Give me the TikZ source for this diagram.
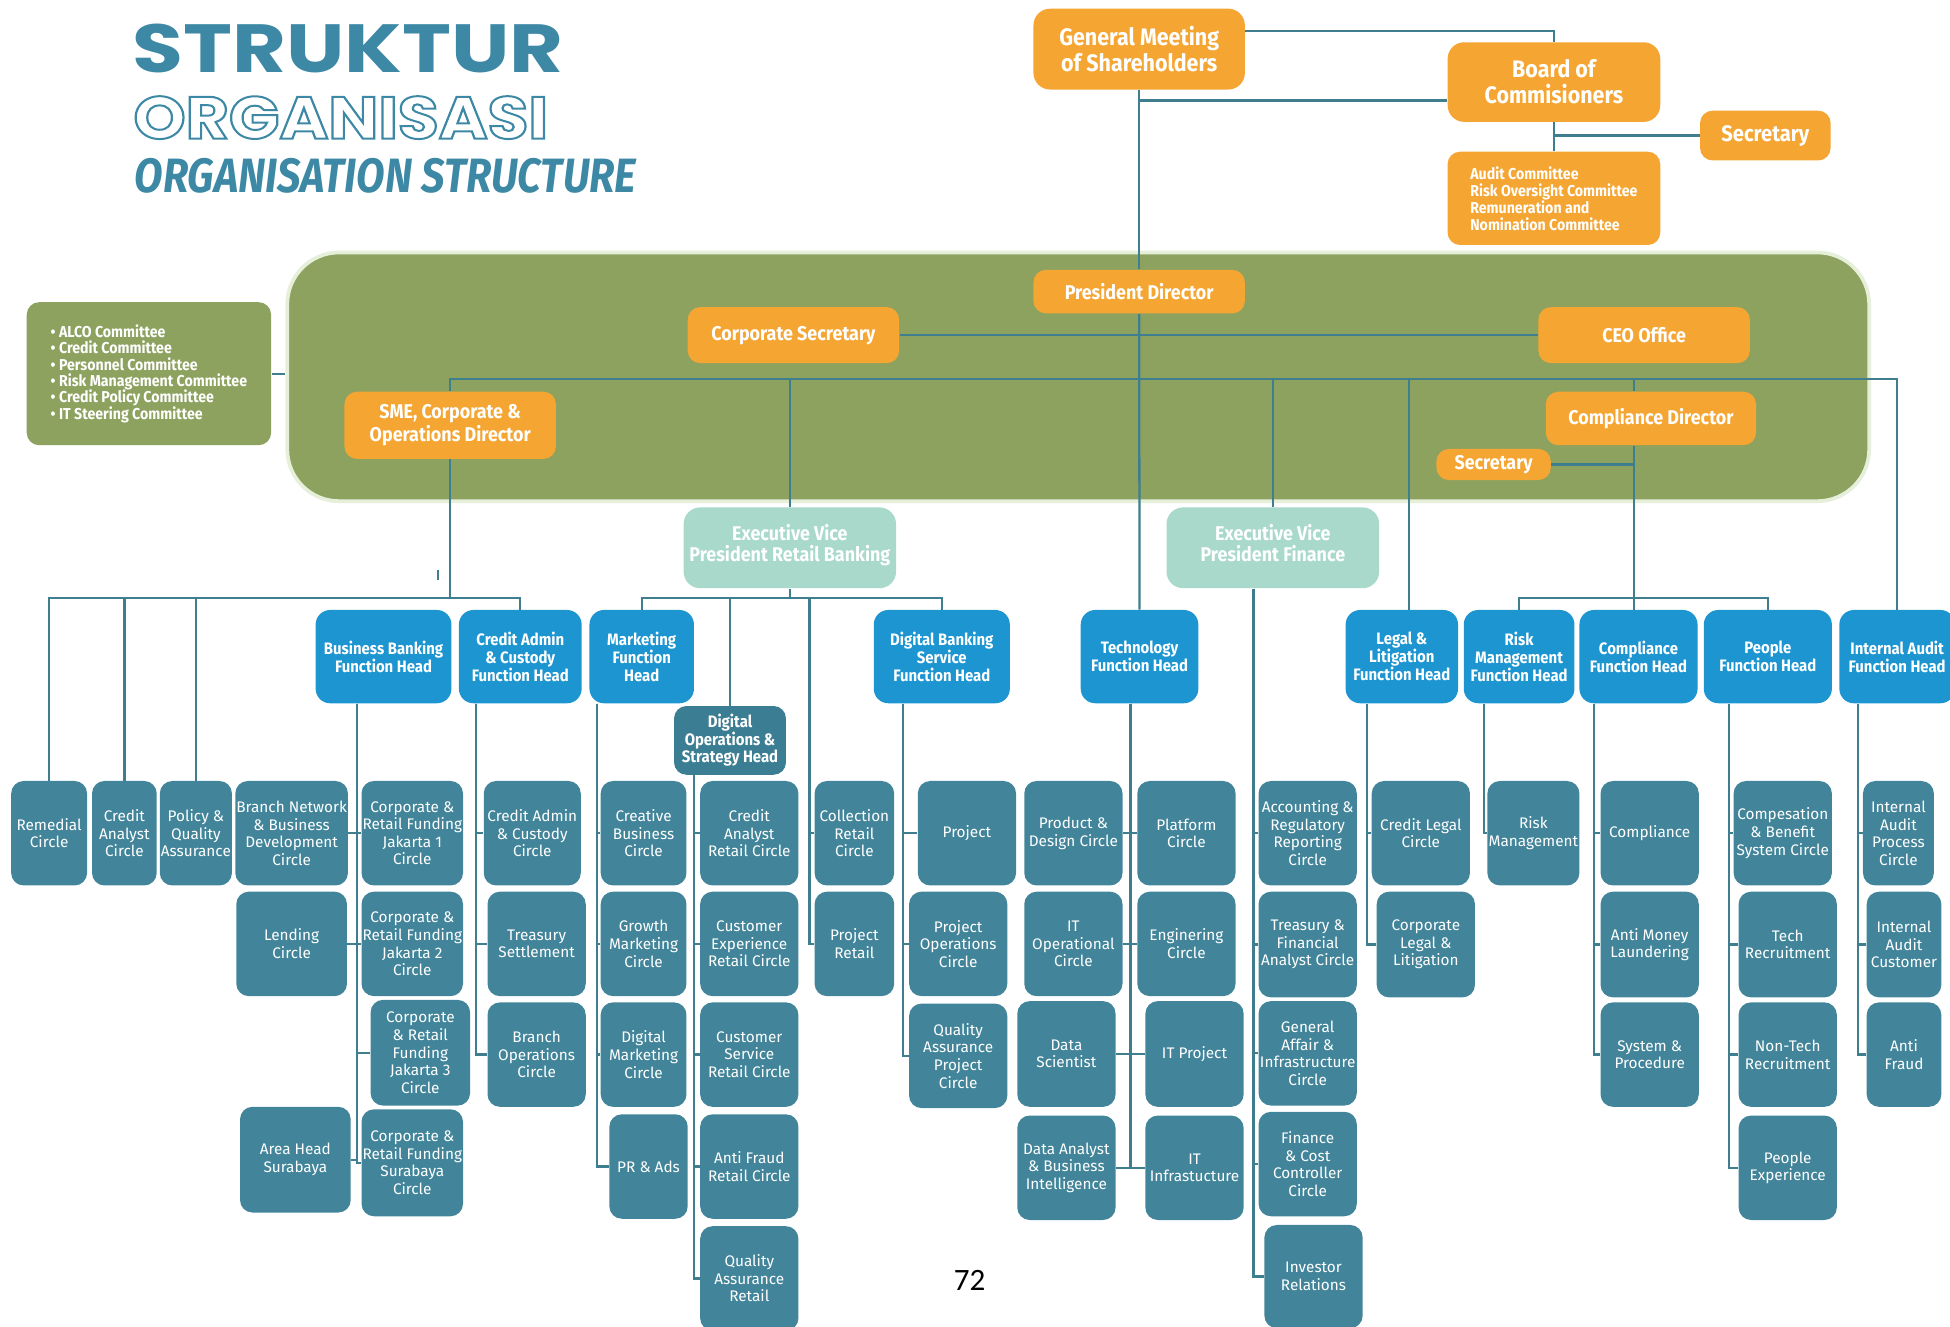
\documentclass[tikz,border=0pt]{standalone}
\usepackage{fontspec}
\usepackage{graphicx}
\setmainfont{Fira Sans}
\newfontfamily\hfont{Fira Sans}[FakeStretch=0.9]
\newfontfamily\tfont{Poppins}
\newfontfamily\pfont{Carlito}
\usetikzlibrary{calc}
\definecolor{titleteal}{HTML}{3C88A5}
\definecolor{orng}{HTML}{F5A532}
\definecolor{grn}{HTML}{8DA25F}
\definecolor{grnedge}{HTML}{E6EFD9}
\definecolor{evpc}{HTML}{A8D9CB}
\definecolor{blu}{HTML}{1C95D1}
\definecolor{circ}{HTML}{42859A}
\definecolor{dops}{HTML}{3B7E93}
\definecolor{linec}{HTML}{3E7E8E}
\pgfdeclarelayer{back}\pgfdeclarelayer{mid}\pgfsetlayers{back,mid,main}
\newcommand\orgbox[7]{\node[#1, minimum width={(#5-#3)*0.6pt}, minimum height={(#6-#4)*0.6pt}] (#2) at ({(#3+#5)/2},{(#4+#6)/2}) {#7};}
\tikzset{
 base/.style={rounded corners=6pt, inner sep=0.5pt, align=center, text=white},
 og/.style={base, fill=orng, font=\hfont\bfseries\fontsize{9.6}{11}\selectfont},
 ogbig/.style={base, rounded corners=8pt, fill=orng, font=\hfont\bfseries\fontsize{11.5}{12.5}\selectfont},
 ogsec/.style={base, fill=orng, font=\hfont\bfseries\fontsize{10.8}{12}\selectfont},
 ogsmall/.style={base, fill=orng, font=\hfont\bfseries\fontsize{7.6}{8.2}\selectfont, align=left},
 cmtst/.style={base, fill=grn, font=\hfont\bfseries\fontsize{7.6}{7.9}\selectfont, align=left},
 panelst/.style={fill=grn, draw=grnedge, line width=1.8pt, rounded corners=25pt, inner sep=0pt},
 evp/.style={base, rounded corners=8pt, fill=evpc, font=\hfont\bfseries\fontsize{9.6}{10.2}\selectfont},
 head/.style={base, rounded corners=7pt, fill=blu, font=\hfont\bfseries\fontsize{8}{8.6}\selectfont},
 dop/.style={base, fill=dops, font=\hfont\bfseries\fontsize{8}{8.5}\selectfont},
 cir/.style={base, fill=circ, font=\fontsize{7.4}{8.5}\selectfont},
 con/.style={draw=linec, line width=1.1pt},
}
\begin{document}
\begin{tikzpicture}[x=0.6pt, y=-0.6pt]
\useasboundingbox (0,0) rectangle (1568,1067);
% ---------- title
\node[anchor=north west, inner sep=0, text=titleteal] (t1) at (106,19) {\resizebox{208pt}{23.4pt}{\tfont\bfseries STRUKTUR}};
\node[anchor=north west, inner sep=0, text=titleteal] (t2) at (107,77) {\resizebox{200pt}{20.5pt}{\tfont\bfseries\fontsize{30}{30}\selectfont\special{pdf:literal direct 1 Tr 1 w}ORGANISASI\special{pdf:literal direct 0 Tr}}};
\node[anchor=north west, inner sep=0, text=titleteal] (t3) at (108,127) {\resizebox{242pt}{16.5pt}{\bfseries\itshape ORGANISATION STRUCTURE}};
% ---------- green panel
\begin{pgfonlayer}{back}
\orgbox{panelst}{panel}{231}{203}{1503}{403}{}
\end{pgfonlayer}
% ---------- top
\orgbox{ogbig}{gms}{831}{7}{1001}{72}{General Meeting\\of Shareholders}
\orgbox{ogbig}{board}{1164}{34}{1335}{98}{Board of\\Commisioners}
\orgbox{ogsec}{sec1}{1367}{89}{1472}{129}{Secretary}
\orgbox{ogsmall}{comm}{1164}{122}{1335}{197}{Audit Committee\\Risk Oversight Committee\\Remuneration and\\Nomination Committee}
\orgbox{cmtst}{cmt}{21.5}{243}{218}{358}{\textbullet\ ALCO Committee\\\textbullet\ Credit Committee\\\textbullet\ Personnel Committee\\\textbullet\ Risk Management Committee\\\textbullet\ Credit Policy Committee\\\textbullet\ IT Steering Committee}
% ---------- inside panel
\orgbox{og}{pd}{831}{217}{1001}{252}{President Director}
\orgbox{og}{cs}{553}{247}{723}{292}{Corporate Secretary}
\orgbox{og}{ceo}{1237}{247}{1407}{292}{CEO Office}
\orgbox{og}{sme}{277}{315}{447}{369}{SME, Corporate \&\\Operations Director}
\orgbox{og}{cpd}{1243}{315}{1412}{358}{Compliance Director}
\orgbox{og}{sec2}{1155}{361}{1247}{386}{Secretary}
% ---------- EVP
\orgbox{evp}{evpr}{549.7}{408}{720.5}{473}{Executive Vice\\President Retail Banking\\[-5.4pt]}
\orgbox{evp}{evpf}{938}{408}{1109}{473}{Executive Vice\\President Finance\\[-5.4pt]}
% ---------- function heads
\orgbox{head}{bbh}{253.8}{490.5}{363}{565.5}{Business Banking\\Function Head}
\orgbox{head}{cah}{369}{490.5}{467.7}{565.5}{Credit Admin\\\& Custody\\Function Head}
\orgbox{head}{mkh}{474}{490.5}{558}{565.5}{Marketing\\Function\\Head}
\orgbox{head}{dbh}{702.6}{490.5}{812}{565.5}{Digital Banking\\Service\\Function Head}
\orgbox{head}{teh}{869}{490.5}{963.6}{565.5}{Technology\\Function Head}
\orgbox{head}{lgh}{1082}{490.5}{1172.4}{565.5}{Legal \&\\Litigation\\Function Head}
\orgbox{head}{rmh}{1177}{490.5}{1266}{565.5}{Risk\\Management\\Function Head}
\orgbox{head}{cph}{1270}{490.5}{1365}{565.5}{Compliance\\Function Head}
\orgbox{head}{peh}{1370}{490.5}{1473}{565.5}{People\\Function Head}
\orgbox{head}{iah}{1479}{490.5}{1572}{565.5}{Internal Audit\\Function Head}
\orgbox{dop}{doh}{542}{567.7}{632}{623}{Digital\\Operations \&\\Strategy Head}
% ---------- circles
\orgbox{cir}{rem}{9}{628}{70}{712}{Remedial\\Circle}
\orgbox{cir}{cra}{74}{628}{126}{712}{Credit\\Analyst\\Circle}
\orgbox{cir}{pqa}{129}{628}{186}{712}{Policy \&\\Quality\\Assurance}
\orgbox{cir}{bn}{190}{628}{279}{712}{Branch Network\\\& Business\\Development\\Circle}
\orgbox{cir}{lend}{190}{717}{279}{801}{Lending\\Circle}
\orgbox{cir}{ahs}{193}{890}{282}{975}{Area Head\\Surabaya}
\orgbox{cir}{j1}{292}{628}{371}{712}{Corporate \&\\Retail Funding\\Jakarta 1\\Circle}
\orgbox{cir}{j2}{292}{717}{371}{801}{Corporate \&\\Retail Funding\\Jakarta 2\\Circle}
\orgbox{cir}{j3}{298}{804}{378}{889}{Corporate\\\& Retail\\Funding\\Jakarta 3\\Circle}
\orgbox{cir}{sby}{292}{892}{371}{978}{Corporate \&\\Retail Funding\\Surabaya\\Circle}
\orgbox{cir}{cac}{389}{628}{467}{712}{Credit Admin\\\& Custody\\Circle}
\orgbox{cir}{ts}{392}{717}{471}{801}{Treasury\\Settlement}
\orgbox{cir}{boc}{392}{806}{471}{890}{Branch\\Operations\\Circle}
\orgbox{cir}{cbc}{483}{628}{552}{712}{Creative\\Business\\Circle}
\orgbox{cir}{gmc}{483}{717}{552}{801}{Growth\\Marketing\\Circle}
\orgbox{cir}{dmc}{483}{806}{552}{890}{Digital\\Marketing\\Circle}
\orgbox{cir}{pra}{490}{896}{553}{980}{PR \& Ads}
\orgbox{cir}{carc}{563}{628}{642}{712}{Credit\\Analyst\\Retail Circle}
\orgbox{cir}{cerc}{563}{717}{642}{801}{Customer\\Experience\\Retail Circle}
\orgbox{cir}{csrc}{563}{806}{642}{890}{Customer\\Service\\Retail Circle}
\orgbox{cir}{afrc}{563}{896}{642}{980}{Anti Fraud\\Retail Circle}
\orgbox{cir}{qar}{563}{986}{642}{1070}{Quality\\Assurance\\Retail}
\orgbox{cir}{col}{655}{628}{719}{712}{Collection\\Retail\\Circle}
\orgbox{cir}{prr}{655}{717}{719}{801}{Project\\Retail}
\orgbox{cir}{proj}{738}{628}{817}{712}{Project}
\orgbox{cir}{poc}{731}{717}{810}{801}{Project\\Operations\\Circle}
\orgbox{cir}{qapc}{731}{807}{810}{891}{Quality\\Assurance\\Project\\Circle}
\orgbox{cir}{pdc}{823.6}{628}{902.6}{712}{Product \&\\Design Circle}
\orgbox{cir}{itoc}{823.6}{717}{902.6}{801}{IT\\Operational\\Circle}
\orgbox{cir}{ds}{818}{805}{897}{890}{Data\\Scientist}
\orgbox{cir}{dabi}{818}{897}{897}{981}{Data Analyst\\\& Business\\Intelligence}
\orgbox{cir}{plc}{914.5}{628}{993.5}{712}{Platform\\Circle}
\orgbox{cir}{enc}{914.5}{717}{993.5}{801}{Enginering\\Circle}
\orgbox{cir}{itp}{921}{805}{1000}{890}{IT Project}
\orgbox{cir}{iti}{921}{897}{1000}{981}{IT\\Infrastucture}
\orgbox{cir}{arr}{1012}{628}{1091}{712}{Accounting \&\\Regulatory\\Reporting\\Circle}
\orgbox{cir}{tfa}{1012}{717}{1091}{802}{Treasury \&\\Financial\\Analyst Circle}
\orgbox{cir}{gai}{1012}{805}{1091}{889}{General\\Affair \&\\Infrastructure\\Circle}
\orgbox{cir}{fcc}{1012}{894}{1091}{978}{Finance\\\& Cost\\Controller\\Circle}
\orgbox{cir}{ir}{1016.7}{985}{1095.7}{1068}{Investor\\Relations}
\orgbox{cir}{clc}{1103}{628}{1182}{712}{Credit Legal\\Circle}
\orgbox{cir}{cll}{1107}{717}{1186}{802}{Corporate\\Legal \&\\Litigation}
\orgbox{cir}{rm}{1196}{628}{1270}{712}{Risk\\Management}
\orgbox{cir}{cmp}{1287}{628}{1366}{712}{Compliance}
\orgbox{cir}{aml}{1287}{717}{1366}{802}{Anti Money\\Laundering}
\orgbox{cir}{sp}{1287}{806}{1366}{890}{System \&\\Procedure}
\orgbox{cir}{cbs}{1394}{628}{1473}{712}{Compesation\\\& Benefit\\System Circle}
\orgbox{cir}{tr}{1398}{717}{1477}{802}{Tech\\Recruitment}
\orgbox{cir}{ntr}{1398}{806}{1477}{890}{Non-Tech\\Recruitment}
\orgbox{cir}{pe}{1398}{897}{1477}{981}{People\\Experience}
\orgbox{cir}{iap}{1498}{628}{1555}{712}{Internal\\Audit\\Process\\Circle}
\orgbox{cir}{iac}{1501}{717}{1561}{802}{Internal\\Audit\\Customer}
\orgbox{cir}{af}{1501}{806}{1561}{890}{Anti\\Fraud}
% page number
\node[font=\pfont\fontsize{15}{15}\selectfont, text=black] (pg) at (779.6,1029.7) {72};
% ---------- connectors
\begin{pgfonlayer}{mid}
\coordinate (gr) at ($(gms.north east)!0.28!(gms.south east)$);
\draw[con] (gr) -| (board.north);
\draw[con] (gms.south) -- (pd.north);
\coordinate (bl) at ($(board.north west)!0.73!(board.south west)$);
\draw[con] (bl) -- (bl -| gms.south);
\draw[con] (board.south) -- (comm.north);
\draw[con] (sec1.west) -- (sec1.west -| board.south);
\draw[con] (cmt.east) -- (cmt.east -| panel.west);
\draw[con] (pd.south) -- (teh.north);
\draw[con] (cs.east) -- (ceo.west);
\coordinate (bus) at (0,305);
\coordinate (bus2) at (0,481);
\draw[con] (sme.north) |- (bus -| iah.north) -- (iah.north);
\draw[con] (bus -| evpr.north) -- (evpr.north);
\draw[con] (bus -| evpf.north) -- (evpf.north);
\coordinate (xLeg) at (1133,0);
\draw[con] (bus -| xLeg) -- (lgh.north -| xLeg);
\coordinate (xCp) at (1314,0);
\draw[con] (bus -| xCp) -- (cpd.north -| xCp);
\draw[con] (cpd.south -| xCp) -- (cph.north -| xCp);
\draw[con] (sec2.east) -- (sec2.east -| xCp);
\draw[con] (rmh.north) |- (bus2 -| peh.north) -- (peh.north);
% SME
\draw[con] (sme.south) -- (sme.south |- bus2);
\draw[con] (rem.north) |- (bus2 -| cah.north) -- (cah.north);
\draw[con] (bus2 -| cra.north) -- (cra.north);
\draw[con] (bus2 -| pqa.north) -- (pqa.north);
\coordinate (tk1) at (352,458); \coordinate (tk2) at (352,466);
\draw[con, line width=0.8pt] (tk1) -- (tk2);
% EVP retail
\draw[con] (evpr.south) -- (evpr.south |- bus2);
\draw[con] (mkh.north) |- (bus2 -| dbh.north) -- (dbh.north);
\draw[con] (bus2 -| doh.north) -- (doh.north);
\coordinate (tCo) at (651,0);
\draw[con] (bus2 -| tCo) |- (col.west);
\draw[con] (bus2 -| tCo) |- (prr.west);
% EVP finance
\coordinate (tFi) at (1008,0);
\foreach \n in {arr,tfa,gai,fcc,ir} \draw[con] (evpf.south -| tFi) |- (\n.west);
% trunks
\coordinate (tBB) at (287,0);
\foreach \n in {j1,j2,j3,sby} \draw[con] (bbh.south -| tBB) |- (\n.west);
\foreach \n in {bn,lend,ahs} \draw[con] (bbh.south -| tBB) |- (\n.east);
\coordinate (tCA) at (383,0);
\foreach \n in {cac,ts,boc} \draw[con] (cah.south -| tCA) |- (\n.west);
\coordinate (tMK) at (480,0);
\foreach \n in {cbc,gmc,dmc,pra} \draw[con] (mkh.south -| tMK) |- (\n.west);
\coordinate (tDO) at (558,0);
\foreach \n in {carc,cerc,csrc,afrc,qar} \draw[con] (doh.south -| tDO) |- (\n.west);
\coordinate (tDB) at (726,0);
\foreach \n in {proj,poc,qapc} \draw[con] (dbh.south -| tDB) |- (\n.west);
\coordinate (tTE) at (909,0);
\foreach \n in {plc,enc,itp,iti} \draw[con] (teh.south -| tTE) |- (\n.west);
\foreach \n in {pdc,itoc,ds,dabi} \draw[con] (teh.south -| tTE) |- (\n.east);
\coordinate (tLG) at (1099,0);
\foreach \n in {clc,cll} \draw[con] (lgh.south -| tLG) |- (\n.west);
\coordinate (tRK) at (1193,0);
\draw[con] (rmh.south -| tRK) |- (rm.west);
\coordinate (tCP) at (1282,0);
\foreach \n in {cmp,aml,sp} \draw[con] (cph.south -| tCP) |- (\n.west);
\coordinate (tPE) at (1390,0);
\foreach \n in {cbs,tr,ntr,pe} \draw[con] (peh.south -| tPE) |- (\n.west);
\coordinate (tIA) at (1494,0);
\foreach \n in {iap,iac,af} \draw[con] (iah.south -| tIA) |- (\n.west);
\end{pgfonlayer}
\end{tikzpicture}
\end{document}
